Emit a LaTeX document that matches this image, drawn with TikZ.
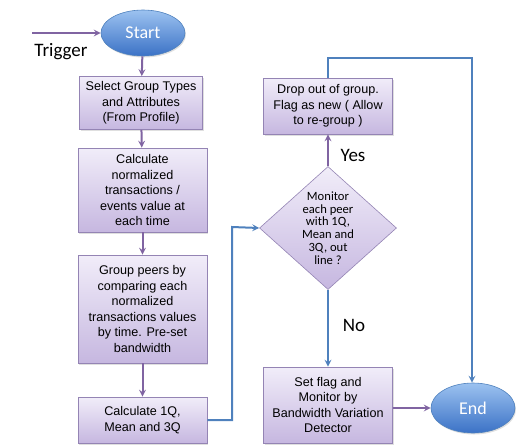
\documentclass[tikz,border=0pt]{standalone}
\usepackage{fontspec}
\setmainfont{Liberation Sans}
\newfontfamily\calib{Carlito}
\usetikzlibrary{arrows,shapes.geometric,shadows}
\definecolor{boxtop}{HTML}{F1EDF9}
\definecolor{boxbot}{HTML}{C6B7E0}
\definecolor{boxline}{HTML}{9484B4}
\definecolor{ovaltop}{HTML}{9CC2F0}
\definecolor{ovalbot}{HTML}{3B72C6}
\definecolor{ovalline}{HTML}{4F81BD}
\definecolor{violetline}{HTML}{8064A2}
\definecolor{blueline}{HTML}{4F81BD}
\begin{document}
\begin{tikzpicture}[
  x=1pt, y=-1pt,
  >=stealth,
  procbox/.style={rectangle, draw=boxline, line width=0.8pt, top color=boxtop, bottom color=boxbot,
    align=center, inner sep=2pt, minimum width=129pt,
    font=\fontsize{12.6}{15.5}\selectfont,
    drop shadow={opacity=0.25, shadow xshift=1pt, shadow yshift=-1.5pt}},
  terminal/.style={ellipse, draw=ovalline, line width=0.6pt, top color=ovaltop, bottom color=ovalbot,
    text=white, font=\calib\fontsize{18}{20}\selectfont, minimum width=84pt, minimum height=46pt,
    drop shadow={opacity=0.25, shadow xshift=1pt, shadow yshift=-1.5pt}},
  decision/.style={diamond, draw=boxline, line width=0.6pt, top color=boxtop, bottom color=boxbot,
    align=center, inner sep=0pt, aspect=1.11, minimum width=137pt, minimum height=123pt,
    font=\calib\fontsize{12.6}{12.7}\selectfont},
  tag/.style={font=\calib\fontsize{19}{21}\selectfont},
  violetarrow/.style={->, draw=violetline, line width=2pt},
  bluearrow/.style={->, draw=blueline, line width=2pt}
]
\useasboundingbox (0,0) rectangle (516,445);

% left column
\node[terminal] (start) at (143,33) {Start};
\node[procbox, minimum width=123pt, minimum height=53pt] (select) at (141,103)
  {Select Group Types\\and Attributes\\(From Profile)};
\node[procbox, minimum height=84pt] (normal) at (142.5,190)
  {Calculate\\normalized\\transactions /\\events value at\\each time};
\node[procbox, minimum height=108pt] (peers) at (142.5,309)
  {Group peers by\\comparing each\\normalized\\transactions values\\by time. Pre-set\\bandwidth};
\node[procbox, minimum height=46pt] (quart) at (142.5,420)
  {Calculate 1Q,\\Mean and 3Q};

% right part
\node[decision] (monitor) at (328,228)
  {Monitor\\each peer\\with 1Q,\\Mean and\\3Q, out\\line ?};
\node[procbox, minimum height=56pt] (drop) at (328,106)
  {Drop out of group.\\Flag as new ( Allow\\to re-group )};
\node[procbox, minimum height=76pt] (flag) at (328,405)
  {Set flag and\\Monitor by\\Bandwidth Variation\\Detector};
\node[terminal, minimum height=50pt] (end) at (473,408) {End};

\coordinate (trig) at (32,33);
\node[tag] (trigtext) at (61,52) {Trigger};
\node[tag] (yes) at (353,155) {Yes};
\node[tag] (no) at (354,325) {No};

% connectors
\draw[violetarrow] (trig) -- (start.west);
\draw[violetarrow] (start) -- (select);
\draw[violetarrow] (select) -- (normal);
\draw[violetarrow] (normal) -- (peers);
\draw[violetarrow] (peers) -- (quart);
\draw[bluearrow] (quart.east) -- (232,420) -- (232,227) -- (monitor.west);
\draw[violetarrow] (monitor.north) -- (drop.south);
\draw[bluearrow] (monitor.south) -- (flag.north);
\draw[violetarrow] (flag.east |- end) -- (end.west);
\draw[bluearrow] (drop.north) -- (328,58) -- (472,58) -- (end.north -| 472,0);
\end{tikzpicture}
\end{document}
